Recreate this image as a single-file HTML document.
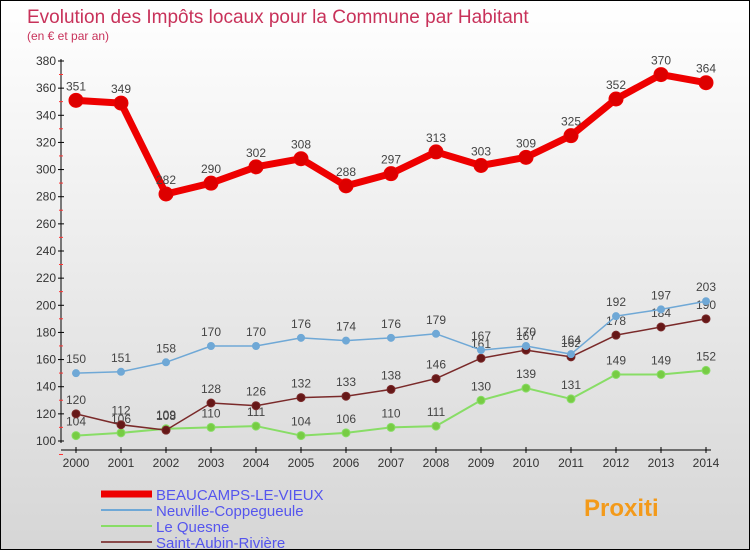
<!DOCTYPE html>
<html><head><meta charset="utf-8"><style>
body{margin:0}
#c{width:748px;height:548px;border:1px solid #000;background:linear-gradient(#fff,#d6d6d6);position:relative;font-family:"Liberation Sans",sans-serif;overflow:hidden}
</style></head><body>
<div id="c">
<svg id="s" width="748" height="548" xmlns="http://www.w3.org/2000/svg">
<text x="26" y="22" font-size="19" fill="#c8325a">Evolution des Impôts locaux pour la Commune par Habitant</text>
<text x="26" y="39" font-size="12" fill="#c8325a">(en € et par an)</text>
<g id="g"></g>
</svg>
</div>
<script>
const years=["2000","2001","2002","2003","2004","2005","2006","2007","2008","2009","2010","2011","2012","2013","2014"];
const yTicks=[100,120,140,160,180,200,220,240,260,280,300,320,340,360,380];
const beaucamps=[351,349,282,290,302,308,288,297,313,303,309,325,352,370,364];
const neuville=[150,151,158,170,170,176,174,176,179,167,170,164,192,197,203];
const lequesne=[104,106,109,110,111,104,106,110,111,130,139,131,149,149,152];
const saintaubin=[120,112,108,128,126,132,133,138,146,161,167,162,178,184,190];
const NS="http://www.w3.org/2000/svg";
const g=document.getElementById('g');
const X=i=>75+i*45;
const Y=v=>440-(v-100)*(380/280);
function el(t,a){const e=document.createElementNS(NS,t);for(const k in a)e.setAttribute(k,a[k]);g.appendChild(e);return e;}
let e=el('line',{x1:60,y1:58,x2:60,y2:442,stroke:'#000'});


e=el('line',{x1:60,y1:449,x2:710,y2:449,stroke:'#000'});


yTicks.forEach(v=>{const y=Y(v);
 el('line',{x1:57,y1:y,x2:63,y2:y,stroke:'#000'});
 el('line',{x1:58,y1:y+13.5,x2:62,y2:y+13.5,stroke:'#f33'});
 const t=el('text',{x:55,y:y+4,'font-size':12,'text-anchor':'end',fill:'#333'});t.textContent=v;
 
 
});
years.forEach((yr,i)=>{el('line',{x1:X(i),y1:446,x2:X(i),y2:452,stroke:'#000'});
 const t=el('text',{x:X(i),y:466,'font-size':12,'text-anchor':'middle',fill:'#333'});t.textContent=yr;
 
 
});
function series(d,col,dot,w,r,name){
 const p=el('polyline',{points:d.map((v,i)=>X(i)+','+Y(v)).join(' '),fill:'none',stroke:col,'stroke-width':w,'stroke-linejoin':'round'});
 
 
 d.forEach((v,i)=>{const c=el('circle',{cx:X(i),cy:Y(v),r:r,fill:dot,stroke:col,'stroke-width':1});
  
  
  const t=el('text',{x:X(i),y:Y(v)-10,'font-size':12,'text-anchor':'middle',fill:'#444'});t.textContent=v;
  
  
 });
}
series(lequesne,'#88dd66','#77cc44',2,4,'le-quesne');
series(saintaubin,'#7a2a2a','#661818',1.5,4,'saint-aubin');
series(neuville,'#6fa8d6','#6fa8d6',1.5,3.5,'neuville');
series(beaucamps,'#ee0000','#dd0000',7,7,'beaucamps');
const leg=[["BEAUCAMPS-LE-VIEUX","#ee0000",7],["Neuville-Coppegueule","#6fa8d6",2],["Le Quesne","#88dd66",2],["Saint-Aubin-Rivière","#8a4a4a",2]];
leg.forEach((l,i)=>{const y=493+i*16;
 const ln=el('line',{x1:100,y1:y,x2:151,y2:y,stroke:l[1],'stroke-width':l[2]});
 
 
 const t=el('text',{x:155,y:y+6,'font-size':15,fill:'#5555ee'});t.textContent=l[0];
 
 
});
const lg=el('text',{x:583,y:515,'font-size':24,'font-weight':'bold',fill:'#f39a1a'});lg.textContent="Proxiti";


</script>
</body></html>
